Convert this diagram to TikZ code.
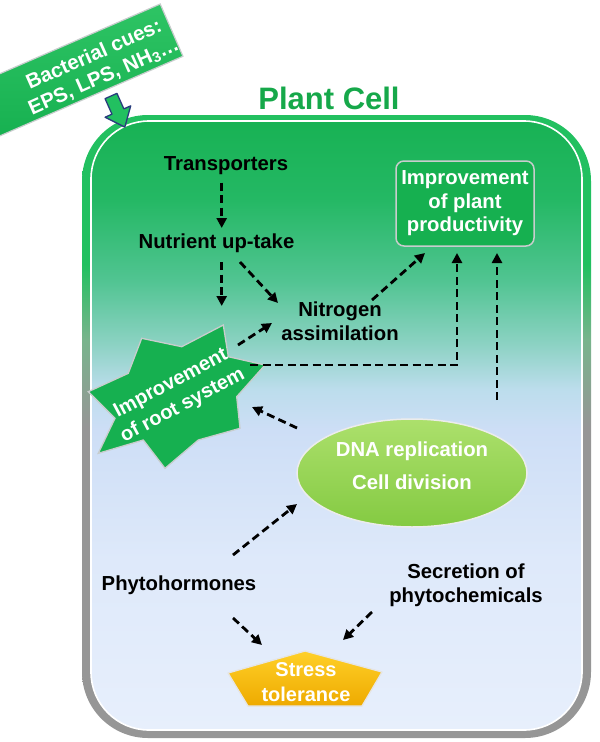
\documentclass[tikz,border=0pt]{standalone}
\usepackage{fontspec}
\setmainfont{Liberation Sans}
\usetikzlibrary{arrows.meta,shapes.geometric,calc}

\definecolor{cbot}{RGB}{231,239,252}
\definecolor{c39}{RGB}{222,233,250}
\definecolor{c50}{RGB}{205,222,246}
\definecolor{c53}{RGB}{188,221,236}
\definecolor{c57}{RGB}{140,210,195}
\definecolor{c62}{RGB}{80,196,145}
\definecolor{c69}{RGB}{36,184,100}
\definecolor{ctop}{RGB}{24,178,84}
\definecolor{bgreen}{RGB}{34,192,96}
\definecolor{bmid}{RGB}{120,180,140}
\definecolor{bgray}{RGB}{150,150,150}
\definecolor{boxgreen}{RGB}{22,176,80}
\definecolor{boxgreenlt}{RGB}{46,196,100}
\definecolor{titlegreen}{RGB}{22,168,74}
\definecolor{dnatop}{RGB}{172,224,108}
\definecolor{dnabot}{RGB}{132,202,66}
\definecolor{goldtop}{RGB}{255,208,40}
\definecolor{goldbot}{RGB}{238,170,0}
\definecolor{navy}{RGB}{40,60,125}
\definecolor{edgegray}{RGB}{200,205,205}

\pgfdeclareverticalshading{cellfill}{100bp}{color(0bp)=(cbot); color(25bp)=(cbot); color(39bp)=(c39); color(49.7bp)=(c50); color(53bp)=(c53); color(56.7bp)=(c57); color(62bp)=(c62); color(68.6bp)=(c69); color(75bp)=(ctop); color(100bp)=(ctop)}
\pgfdeclareverticalshading{borderfill}{100bp}{color(0bp)=(bgray); color(25bp)=(bgray); color(50bp)=(bgray); color(57bp)=(bmid); color(63bp)=(bgreen); color(75bp)=(bgreen); color(100bp)=(bgreen)}

\newcommand{\lab}{\fontsize{20.3}{23.6}\selectfont\bfseries}

\begin{document}
\begin{tikzpicture}[x=1pt,y=-1pt,
  lbl/.style={font=\lab, inner sep=0pt, align=center, text=black},
  wlbl/.style={font=\lab, inner sep=0pt, align=center, text=white},
  dar/.style={-{Triangle[length=10pt,width=10pt]}, line width=2.8pt, dash pattern=on 8pt off 4.5pt, black},
  greenbox/.style={fill=boxgreen, draw=edgegray, line width=1.5pt}
]
\useasboundingbox (0,0) rectangle (600,742);

% cell
\path[shading=borderfill, rounded corners=66pt] (82,115) rectangle (591,738);
\path[shading=cellfill, draw=white, line width=1.6pt, rounded corners=58pt] (91,121) rectangle (582,730);

% title
\node[font=\fontsize{31}{31}\selectfont\bfseries, text=titlegreen, inner sep=0pt] (title) at (329,98.5) {Plant Cell};

% bacterial cues
\node[top color=boxgreenlt, bottom color=boxgreen, draw=edgegray, line width=1.2pt,
      rotate=23.5, minimum width=215pt, minimum height=57pt, inner sep=0pt] (bactbox) at (73,73) {};
\node[rotate=24, inner sep=0pt, font=\fontsize{20.5}{24}\selectfont\bfseries, text=white, align=center] (bact) at (99,66)
      {Bacterial cues:\\EPS, LPS, NH\textsubscript{3}\ldots};

% block arrow
\begin{scope}[shift={(111,96)}, rotate=-66]
  \draw[fill=bgreen, draw=navy, line width=1.3pt, line join=round] (0,-6.5) -- (17,-6.5) -- (17,-14) -- (34,0) -- (17,14) -- (17,6.5) -- (0,6.5) -- cycle;
\end{scope}

% productivity box
\node[greenbox, rounded corners=8pt, minimum width=138pt, minimum height=85pt, inner sep=0pt,
      font=\lab, text=white, align=center] (prod) at (465,203.5)
      {Improvement\\of plant\\productivity};

% star
\path[greenbox, line width=1.3pt, line join=miter]
  (223.3,325) -- (228.3,356.7) -- (265,365) -- (236.7,396.7) -- (240,428.3) -- (198.3,440)
  -- (165,468.3) -- (143.3,440) -- (98.3,453.3) -- (115,418.3) -- (88.3,391.7) -- (128.3,373.3)
  -- (141.7,338.3) -- (181.7,346.7) -- cycle;
\node[wlbl, rotate=28, font=\fontsize{20}{25}\selectfont\bfseries] (root) at (177,395) {Improvement\\of root system};

% DNA ellipse
\node[ellipse, minimum width=230pt, minimum height=108pt, top color=dnatop, bottom color=dnabot,
      draw=white!85!gray, line width=1.5pt] (dnashape) at (412,473) {};
\node[wlbl, font=\fontsize{20.3}{33}\selectfont\bfseries] (dna) at (412,466) {DNA replication\\Cell division};

% stress pentagon
\path[top color=goldtop, bottom color=goldbot, draw=white!80!gray, line width=1.3pt, line join=round]
  (305,651) -- (382,672) -- (362,706) -- (248,706) -- (228,673) -- cycle;
\node[wlbl, font=\fontsize{20}{25}\selectfont\bfseries] (stress) at (306,682) {Stress\\tolerance};

% labels
\node[lbl] (trans) at (226,165.5) {Transporters};
\node[lbl] (nut) at (216.5,243.5) {Nutrient up-take};
\node[lbl] (nitro) at (340,321) {Nitrogen\\assimilation};
\node[lbl] (phyto) at (179,585) {Phytohormones};
\node[lbl] (secr) at (466,585) {Secretion of\\phytochemicals};

% connectors
\draw[dar] ($(trans.center)+(-4.3,17)$) -- ($(nut.center)+(5.2,-15.5)$);
\draw[dar] ($(nut.center)+(5.2,18.5)$) -- ($(root.center)+(44.7,-89)$);
\draw[dar] ($(nut.center)+(23.5,18.5)$) -- ($(nitro.center)+(-62,-18)$);
\draw[dar] ($(root.center)+(61,-50)$) -- ($(nitro.center)+(-68,2)$);
\draw[dar] ($(root.center)+(73,-30)$) -| ($(prod.center)+(-8,49.5)$);
\draw[dar] ($(nitro.center)+(32,-21)$) -- ($(prod.center)+(-40,49.5)$);
\draw[dar] ($(dnashape.center)+(85,-73)$) -- ($(prod.center)+(32,49.5)$);
\draw[dar] ($(dnashape.center)+(-115,-45)$) -- ($(root.center)+(75,12)$);
\draw[dar] ($(phyto.center)+(54,-30)$) -- ($(dnashape.center)+(-115,31)$);
\draw[dar] ($(phyto.center)+(54,33)$) -- ($(stress.center)+(-44,-37)$);
\draw[dar] ($(secr.center)+(-94,27)$) -- ($(stress.center)+(37,-42)$);
\end{tikzpicture}
\end{document}
